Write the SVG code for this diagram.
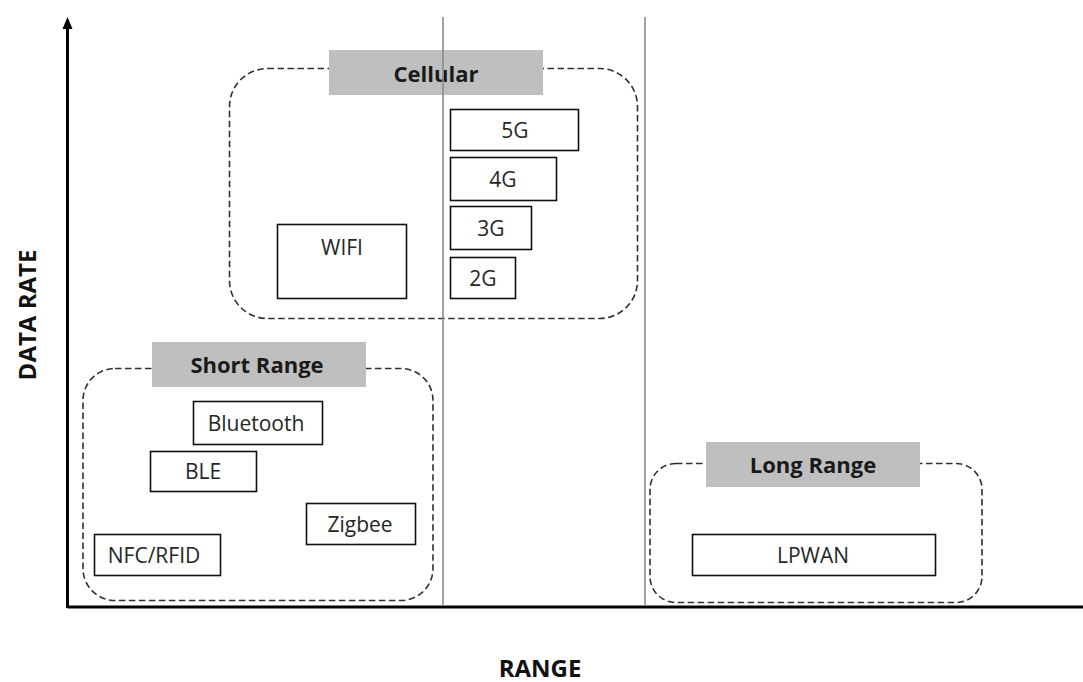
<svg xmlns="http://www.w3.org/2000/svg" width="1083" height="682" viewBox="0 0 1083 682">
  <style>
    .grp { fill: none; stroke: #303030; stroke-width: 1.6; stroke-dasharray: 6.5 3.5; }
    .hdr { fill: #bfbfbf; stroke: none; }
    .hdrt { font-family: "Open Sans", "Liberation Sans", sans-serif; font-weight: bold; font-size: 22px; fill: #1a1a1a; text-anchor: middle; }
    .box { fill: #ffffff; stroke: #111111; stroke-width: 1.6; }
    .lbl { font-family: "Open Sans", "Liberation Sans", sans-serif; font-size: 21px; fill: #262626; text-anchor: middle; }
    .axt { font-family: "Open Sans", "Liberation Sans", sans-serif; font-weight: bold; font-size: 24px; fill: #111111; text-anchor: middle; }
    .grid { stroke: #8c8c8c; stroke-width: 1.6; }
    .axis { stroke: #000000; stroke-width: 3; fill: none; }
  </style>
  <rect width="1083" height="682" fill="#ffffff"/>

  <g id="axes">
    <line class="axis" x1="67.5" y1="607" x2="1083" y2="607"/>
    <line class="axis" x1="67.5" y1="608" x2="67.5" y2="27"/>
    <path d="M62.5,29 L67.5,17 L72.5,29 Z" fill="#000"/>
    <text class="axt" transform="translate(36,315) rotate(-90)">DATA RATE</text>
    <text class="axt" x="540" y="677" font-size="25">RANGE</text>
  </g>

  <g id="group-cellular">
    <rect class="grp" x="229.5" y="68.5" width="408" height="250" rx="38" ry="38"/>
    <rect class="hdr" x="329" y="50" width="214" height="45"/>
    <text class="hdrt" x="436" y="82">Cellular</text>
  </g>
  <g id="group-short">
    <rect class="grp" x="83" y="368.5" width="350" height="232" rx="32" ry="32"/>
    <rect class="hdr" x="152" y="342" width="214" height="45"/>
    <text class="hdrt" x="257" y="373">Short Range</text>
  </g>
  <g id="group-long">
    <rect class="grp" x="650" y="463.5" width="332" height="139" rx="26" ry="26"/>
    <rect class="hdr" x="706" y="442" width="214" height="45"/>
    <text class="hdrt" x="813" y="473">Long Range</text>
  </g>

  <g id="node-wifi"><rect class="box" x="277.5" y="224.5" width="129" height="74"/><text class="lbl" x="342" y="255">WIFI</text></g>
  <g id="node-5g"><rect class="box" x="450.5" y="109.5" width="128" height="41"/><text class="lbl" x="515" y="138">5G</text></g>
  <g id="node-4g"><rect class="box" x="450.5" y="157.5" width="106" height="43"/><text class="lbl" x="503" y="187">4G</text></g>
  <g id="node-3g"><rect class="box" x="450.5" y="206.5" width="81" height="43"/><text class="lbl" x="491" y="236">3G</text></g>
  <g id="node-2g"><rect class="box" x="450.5" y="257.5" width="65" height="41"/><text class="lbl" x="483" y="286">2G</text></g>

  <g id="node-bluetooth"><rect class="box" x="193.5" y="401.5" width="129" height="43"/><text class="lbl" x="256" y="431">Bluetooth</text></g>
  <g id="node-ble"><rect class="box" x="150.5" y="451.5" width="106" height="40"/><text class="lbl" x="203" y="479">BLE</text></g>
  <g id="node-zigbee"><rect class="box" x="306.5" y="503.5" width="109" height="41"/><text class="lbl" x="360" y="532">Zigbee</text></g>
  <g id="node-nfc"><rect class="box" x="94.5" y="534.5" width="126" height="41"/><text class="lbl" x="154" y="563">NFC/RFID</text></g>
  <g id="node-lpwan"><rect class="box" x="692.5" y="534.5" width="243" height="41"/><text class="lbl" x="813" y="563">LPWAN</text></g>

  <g id="connectors">
    <line class="grid" x1="443" y1="17" x2="443" y2="606"/>
    <line class="grid" x1="645" y1="17" x2="645" y2="606"/>
  </g>
</svg>
